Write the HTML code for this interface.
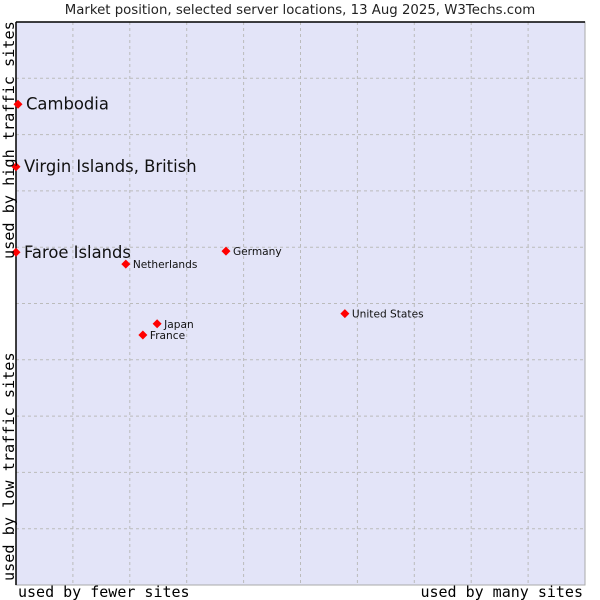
<!DOCTYPE html>
<html><head><meta charset="utf-8"><style>
html,body{margin:0;padding:0;background:#fff;width:600px;height:600px;overflow:hidden}
svg{display:block}
</style></head><body>
<svg id="chart" width="600" height="600" xmlns="http://www.w3.org/2000/svg">
<text x="300" y="14" text-anchor="middle" font-family="DejaVu Sans, sans-serif" font-size="13.3" fill="#222">Market position, selected server locations, 13 Aug 2025, W3Techs.com</text>
<rect x="16" y="22" width="569" height="563" fill="#e3e4f8" stroke="#aaa"/>
<g id="grid"></g>
<line x1="16" y1="22" x2="585" y2="22" stroke="#000" stroke-width="1.5"/>
<line x1="16" y1="22" x2="16" y2="585" stroke="#000" stroke-width="1.5"/>
<g id="points"></g>
<text x="18" y="597" font-family="DejaVu Sans Mono, Liberation Mono, monospace" font-size="15" fill="#000">used by fewer sites</text>
<text x="583" y="597" text-anchor="end" font-family="DejaVu Sans Mono, Liberation Mono, monospace" font-size="15" fill="#000">used by many sites</text>
<text transform="translate(14,259) rotate(-90)" font-family="DejaVu Sans Mono, Liberation Mono, monospace" font-size="15.2" fill="#000">used by high traffic sites</text>
<text transform="translate(14,581) rotate(-90)" font-family="DejaVu Sans Mono, Liberation Mono, monospace" font-size="15.2" fill="#000">used by low traffic sites</text>
</svg>
<script>
const names = ["Cambodia","Virgin Islands, British","Faroe Islands","Netherlands","Germany","United States","Japan","France"];
const xVals = [0.35,0,0,19.3,36.9,57.8,24.8,22.3];
const yVals = [85.4,74.3,59.1,57.0,59.3,48.2,46.4,44.4];
const bigLabel = [true,true,true,false,false,false,false,false];
const NS="http://www.w3.org/2000/svg";
const X0=16,X1=585,Y0=22,Y1=585;
function sx(v){return X0+(X1-X0)*v/100;}
function sy(v){return Y1-(Y1-Y0)*v/100;}
const grid=document.getElementById('grid');
for(let i=1;i<10;i++){
  const v=document.createElementNS(NS,'line');
  v.setAttribute('x1',sx(i*10));v.setAttribute('x2',sx(i*10));v.setAttribute('y1',Y0);v.setAttribute('y2',Y1);
  v.setAttribute('stroke','#bbb');v.setAttribute('stroke-dasharray','3,3');
  
  
  grid.appendChild(v);
  const h=document.createElementNS(NS,'line');
  h.setAttribute('y1',sy(i*10));h.setAttribute('y2',sy(i*10));h.setAttribute('x1',X0);h.setAttribute('x2',X1);
  h.setAttribute('stroke','#bbb');h.setAttribute('stroke-dasharray','3,3');
  
  
  grid.appendChild(h);
}
const pts=document.getElementById('points');
names.forEach((n,i)=>{
  const x=sx(xVals[i]),y=sy(yVals[i]);
  const d=document.createElementNS(NS,'path');
  d.setAttribute('d',`M${x} ${y-4.5}L${x+4.5} ${y}L${x} ${y+4.5}L${x-4.5} ${y}Z`);
  d.setAttribute('fill','#f00');
  
  
  pts.appendChild(d);
  const t=document.createElementNS(NS,'text');
  const big=bigLabel[i];
  t.setAttribute('x',x+(big?8:7));
  t.setAttribute('y',y+(big?5.5:4));
  t.setAttribute('font-family','DejaVu Sans, sans-serif');
  t.setAttribute('font-size',big?16.4:10.6);
  t.setAttribute('fill','#111');
  t.textContent=n;
  
  
  pts.appendChild(t);
});
</script>
</body></html>
